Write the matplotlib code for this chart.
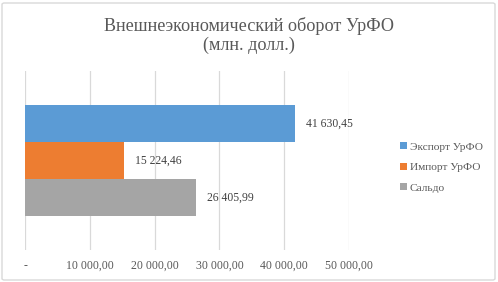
import matplotlib
matplotlib.use("Agg")
import matplotlib.pyplot as plt
from matplotlib.patches import FancyBboxPatch, Patch

series = ["Экспорт УрФО", "Импорт УрФО", "Сальдо"]
values = [41630.45, 15224.46, 26405.99]
colors = ["#5B9BD5", "#ED7D31", "#A5A5A5"]
xticks = [0, 10000, 20000, 30000, 40000, 50000]
title = "Внешнеэкономический оборот УрФО\n(млн. долл.)"

def fmt(v):
    if v == 0:
        return "-"
    s = f"{v:,.2f}"
    return s.replace(",", " ").replace(".", ",")

plt.rcParams['font.family'] = ['Liberation Serif', 'DejaVu Serif']
txt = "#595959"

W, H = 498, 282
fig = plt.figure(figsize=(W / 100, H / 100), dpi=100)
fig.patch.set_facecolor("white")
fig.patches.append(FancyBboxPatch((2 / W, 2 / H), 493 / W, 277 / H,
                                  boxstyle="round,pad=0,rounding_size=0.005",
                                  transform=fig.transFigure, fill=False,
                                  edgecolor="#D9D9D9", linewidth=1))

ax = fig.add_axes([25 / W, (H - 250) / H, (349 - 25) / W, (250 - 71) / H])
pos = [1, 0, -1]
for p, v, c, s in zip(pos, values, colors, series):
    ax.barh(p, v, height=1.0, color=c, label=s, zorder=2)
    ax.annotate(fmt(v), (v, p), xytext=(8, 0), textcoords="offset points",
                ha="left", va="center", fontsize=8.4, color="#404040")

ax.set_xlim(0, 50000)
ax.set_ylim(-2.42, 2.42)
ax.set_xticks(xticks)
ax.set_xticklabels([fmt(t) for t in xticks], fontsize=8.5, color=txt)
ax.set_yticks([])
ax.tick_params(axis="x", length=0, pad=7)
ax.grid(axis="x", color="#D9D9D9", linewidth=0.9, zorder=0)
for sp in ax.spines.values():
    sp.set_visible(False)

fig.text(0.5, 1 - 35.5 / H, title, ha="center", va="center", fontsize=13.1,
         color=txt, linespacing=1.15)

handles = [Patch(facecolor=c, label=s) for c, s in zip(colors, series)]
leg = fig.legend(handles=handles, loc="center left",
                 bbox_to_anchor=(394 / W, 1 - 167.5 / H), frameon=False,
                 fontsize=8.2, handlelength=0.6, handleheight=0.6,
                 handletextpad=0.3, labelspacing=0.95, borderpad=0)
for t in leg.get_texts():
    t.set_color(txt)

fig.savefig("out.png", dpi=100)
